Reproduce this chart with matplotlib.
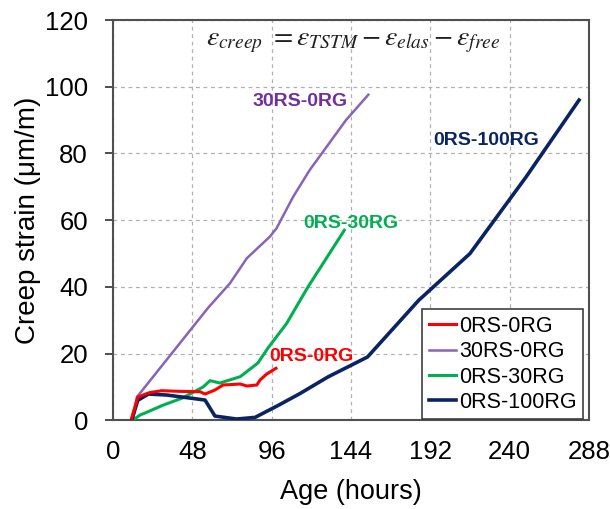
import matplotlib
matplotlib.use("Agg")
import matplotlib.pyplot as plt

# Data (hours, micro-strain)
age_0rs_0rg = [11.3, 15, 22, 29.5, 40, 52.6, 55.7, 61.7, 66.6, 77, 81, 87, 89, 93, 98.6]
cr_0rs_0rg = [0.7, 7, 8.3, 8.9, 8.7, 8.6, 7.9, 9.1, 10.6, 10.9, 10.3, 10.6, 12.1, 13.9, 15.6]

age_30rs_0rg = [12, 14.5, 57.5, 70.8, 81, 95, 99, 109, 119, 141, 154.5]
cr_30rs_0rg = [0, 7, 33.7, 41.1, 48.6, 55.1, 57.6, 67, 75, 90, 97.6]

age_0rs_30rg = [12, 16.3, 19.4, 30, 42, 54.5, 58.7, 64.7, 77, 87.7, 93.8, 105, 118, 140]
cr_0rs_30rg = [0, 1.6, 2.2, 4.5, 6.7, 10, 11.9, 11.2, 13.1, 17.2, 21.7, 29, 40, 57]

age_0rs_100rg = [11.3, 15, 21.4, 32.5, 52.6, 55.7, 61.7, 74.8, 86, 100, 113, 130, 154, 185, 216, 250, 282]
cr_0rs_100rg = [0, 6, 7.9, 7.6, 6.3, 6.1, 1.3, 0.4, 0.9, 4.5, 8, 13, 19, 36, 50, 73, 96]

series_names = ["0RS-0RG", "30RS-0RG", "0RS-30RG", "0RS-100RG"]
xticks = [0, 48, 96, 144, 192, 240, 288]
yticks = [0, 20, 40, 60, 80, 100, 120]

c_red = "#FF0000"
c_purple = "#8764B8"
c_green = "#00B050"
c_navy = "#0A2463"

plt.rcParams["font.family"] = ["Liberation Sans", "DejaVu Sans"]
plt.rcParams["mathtext.fontset"] = "stix"

fig = plt.figure(figsize=(6.10, 5.09), dpi=100)
ax = fig.add_axes([0.1852, 0.1741, 0.7803, 0.7866])

ax.plot(age_0rs_0rg, cr_0rs_0rg, color=c_red, lw=2.2, label=series_names[0], zorder=4)
ax.plot(age_30rs_0rg, cr_30rs_0rg, color=c_purple, lw=1.8, label=series_names[1], zorder=3)
ax.plot(age_0rs_30rg, cr_0rs_30rg, color=c_green, lw=2.2, label=series_names[2], zorder=3)
ax.plot(age_0rs_100rg, cr_0rs_100rg, color=c_navy, lw=2.6, label=series_names[3], zorder=3)

ax.set_xlim(0, 288)
ax.set_ylim(0, 120)
ax.set_xticks(xticks)
ax.set_yticks(yticks)
ax.tick_params(axis="y", labelsize=18.5, direction="out", length=6, width=1.3,
               colors="#404040", labelcolor="black", pad=12)
ax.tick_params(axis="x", labelsize=18.5, length=0, labelcolor="black", pad=14)
ax.grid(True, linestyle=(0, (3, 3)), color="#B0B0B0", linewidth=0.9)
ax.set_axisbelow(True)
for s in ax.spines.values():
    s.set_color("#505050")
    s.set_linewidth(1.5)

ax.set_xlabel("Age (hours)", fontsize=19.5, va="center")
ax.set_ylabel("Creep strain (\u03bcm/m)", fontsize=20, va="center")
ax.xaxis.set_label_coords(0.5, -0.179)
ax.yaxis.set_label_coords(-0.1786, 0.5)

ax.text(113, 95.6, "30RS-0RG", color="#7030A0", fontsize=14, fontweight="bold", ha="center", va="center")
ax.text(144, 58.9, "0RS-30RG", color=c_green, fontsize=14, fontweight="bold", ha="center", va="center")
ax.text(120.2, 19, "0RS-0RG", color=c_red, fontsize=14, fontweight="bold", ha="center", va="center")
ax.text(226, 84, "0RS-100RG", color=c_navy, fontsize=14, fontweight="bold", ha="center", va="center")

ax.text(0.504, 0.945, r"$\varepsilon_{creep}\ =\varepsilon_{TSTM}-\varepsilon_{elas}-\varepsilon_{free}$",
        transform=ax.transAxes, fontsize=20, ha="center", va="center", color="#202020")

leg = ax.legend(loc="lower right", bbox_to_anchor=(0.99, 0.0), fontsize=15.5, frameon=True,
                fancybox=False, edgecolor="#404040", framealpha=1, handlelength=1.25,
                handletextpad=0.15, borderpad=0.3, labelspacing=0.2, borderaxespad=0.05)
leg.get_frame().set_linewidth(1.2)

fig.savefig("out.png", dpi=100)
